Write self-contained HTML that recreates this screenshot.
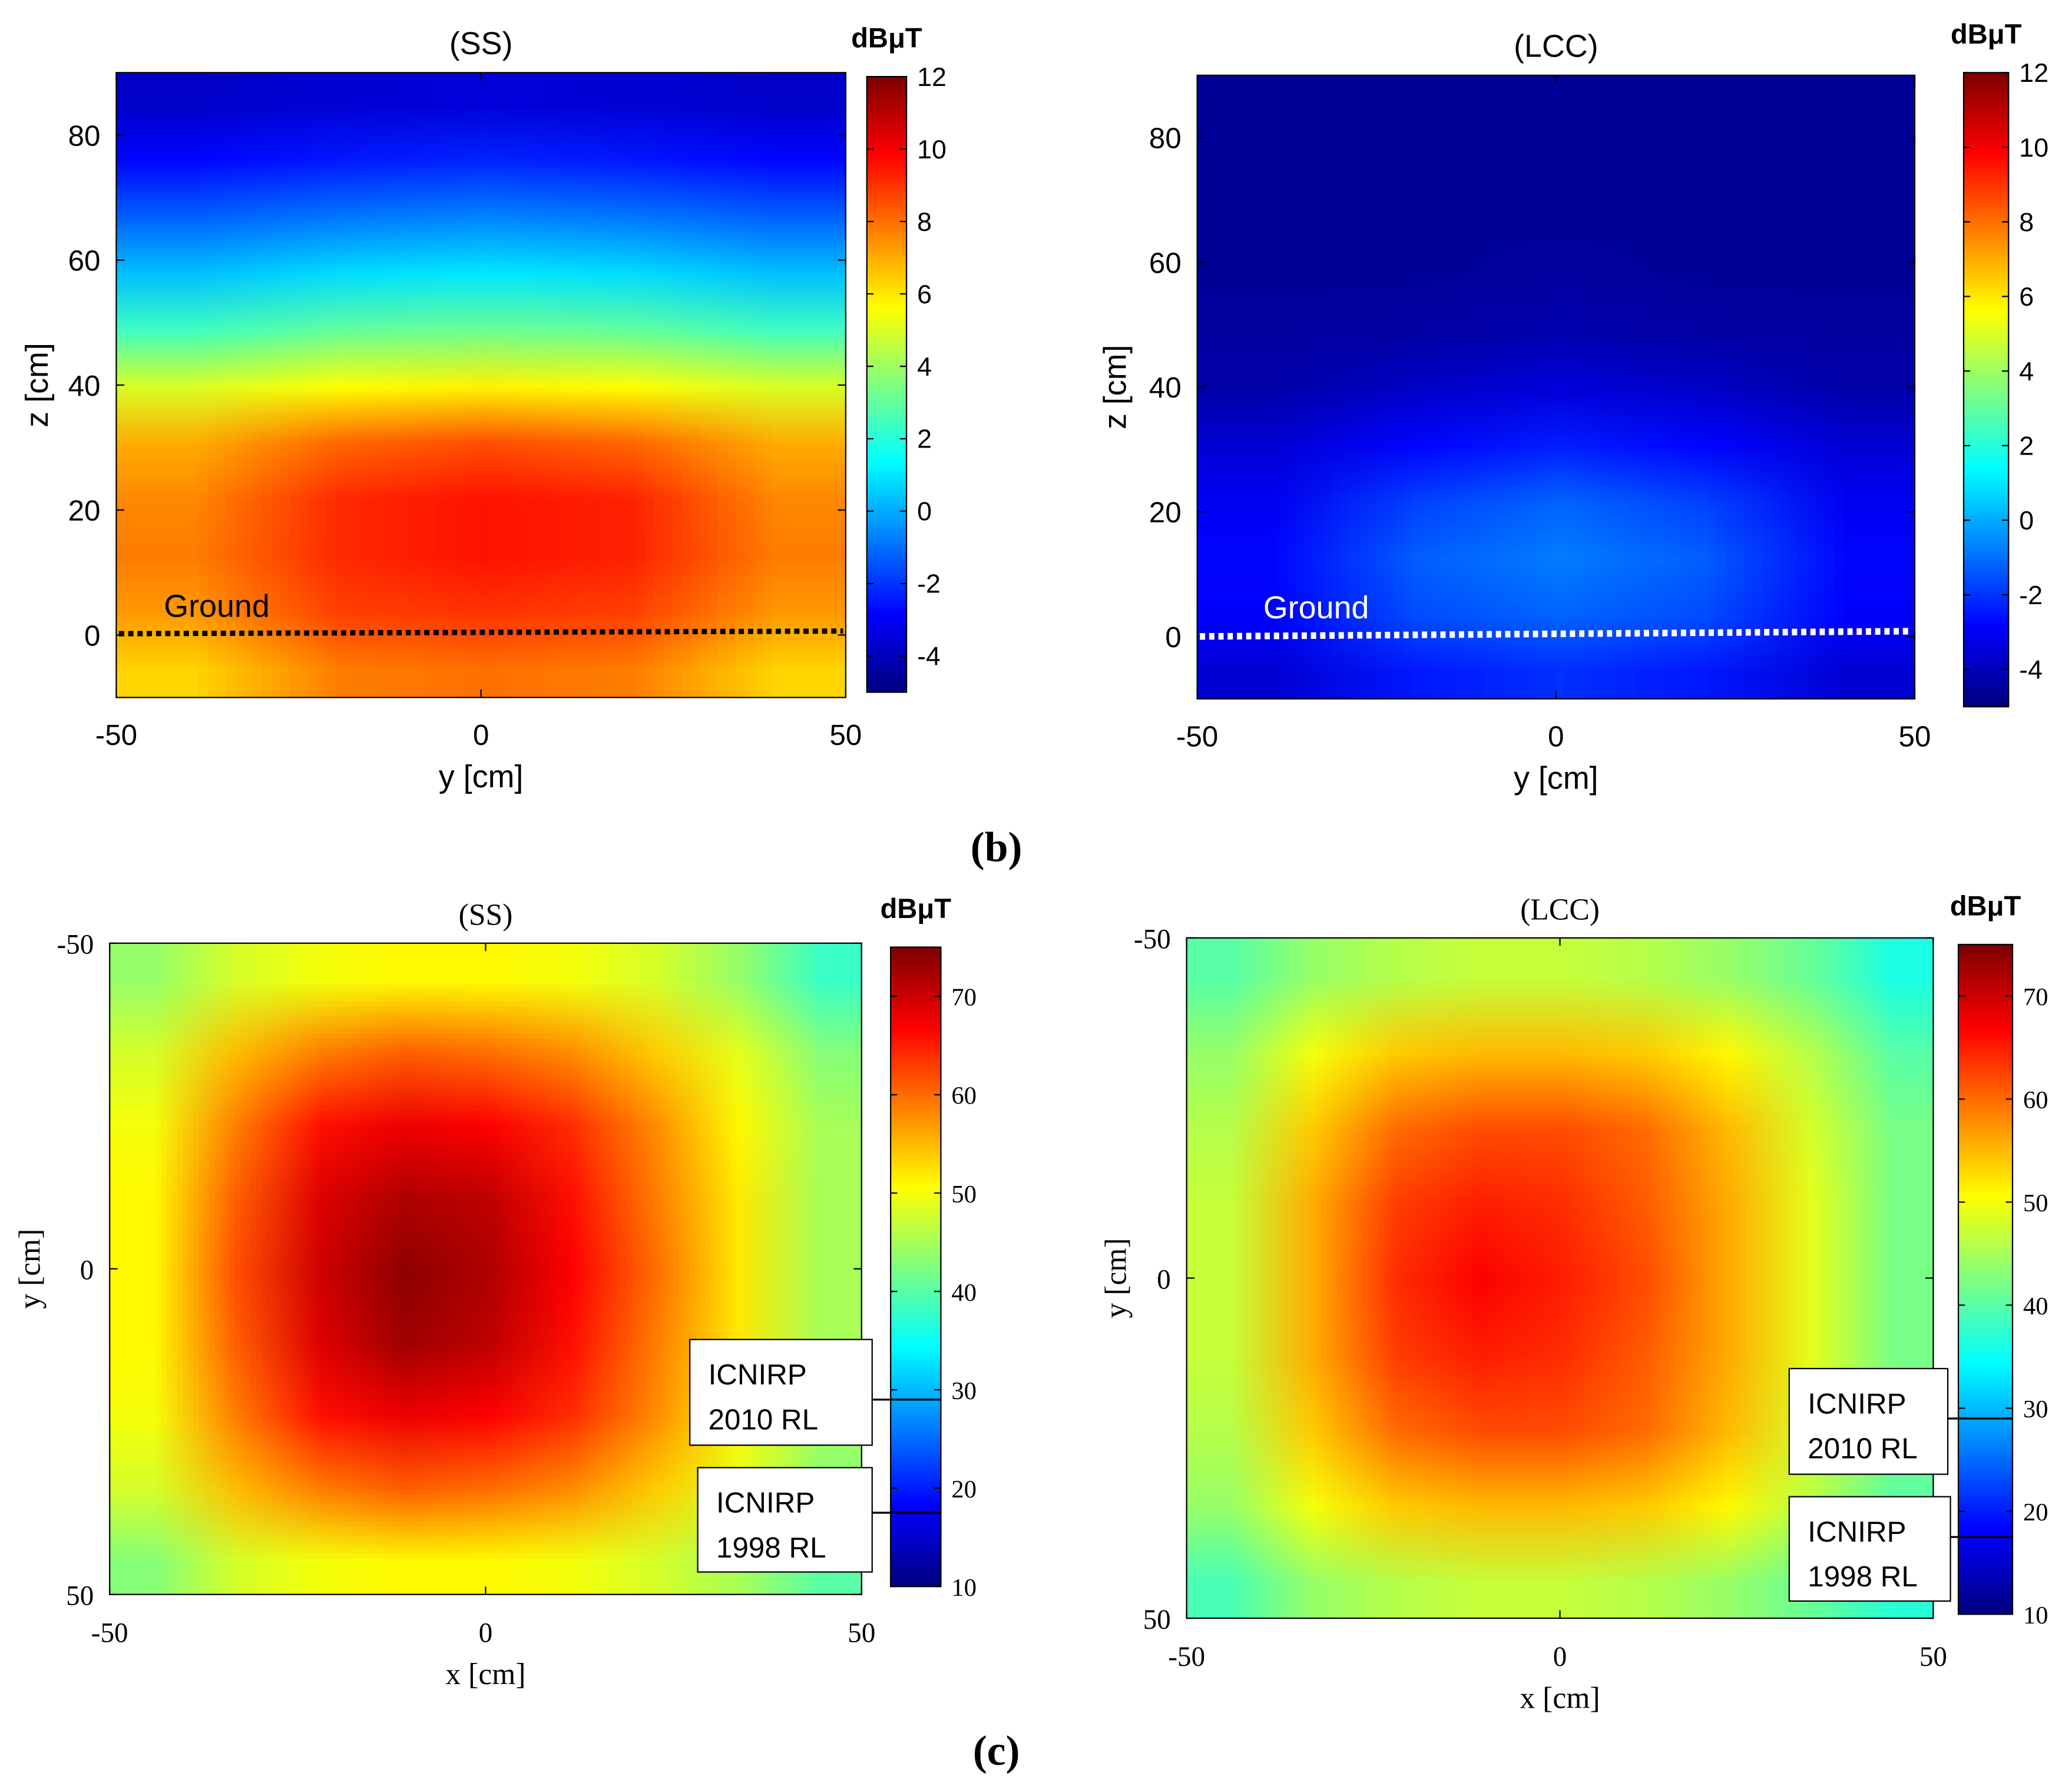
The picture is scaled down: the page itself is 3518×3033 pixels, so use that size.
<!DOCTYPE html>
<html><head><meta charset="utf-8">
<style>
html,body{margin:0;padding:0;background:#fff;}
#root{position:relative;width:1568px;height:1352px;transform-origin:0 0;transform:scale(2.24362,2.24334);background:#fff;}
canvas{position:absolute;}
svg{position:absolute;left:0;top:0;}
.sans{font-family:"Liberation Sans",Arial,sans-serif;}
.serif{font-family:"Liberation Serif","Times New Roman",serif;}
</style></head>
<body>
<div id="root">
<canvas id="h1"></canvas>
<canvas id="h2"></canvas>
<canvas id="h3"></canvas>
<canvas id="h4"></canvas>
<canvas id="c1"></canvas>
<canvas id="c2"></canvas>
<canvas id="c3"></canvas>
<canvas id="c4"></canvas>
<svg id="ov" width="1568" height="1352" viewBox="0 0 1568 1352"></svg>
</div>
<script>
// ---- data ----
const bZ = [90,80,70,60,50,40,30,20,10,0,-10];
const bY = [-50,-25,0,25,50];
const bSS = [
 [-3.8,-3.6,-3.5,-3.6,-3.8],
 [-2.8,-2.5,-2.3,-2.5,-2.8],
 [-1.3,-0.9,-0.7,-0.9,-1.3],
 [0.3,0.8,1.0,0.8,0.3],
 [2.4,3.0,3.2,3.0,2.4],
 [5.0,5.6,5.8,5.6,5.0],
 [7.0,8.2,8.6,8.2,7.0],
 [7.6,9.2,9.6,9.3,7.6],
 [7.8,9.2,9.6,9.3,7.8],
 [7.3,8.8,9.0,8.8,7.3],
 [6.3,7.8,8.0,7.8,6.3]];
const bLCC = [
 [-4.6,-4.6,-4.6,-4.6,-4.6],
 [-4.6,-4.6,-4.6,-4.6,-4.6],
 [-4.6,-4.6,-4.6,-4.6,-4.6],
 [-4.6,-4.6,-4.5,-4.6,-4.6],
 [-4.5,-4.4,-4.2,-4.4,-4.5],
 [-4.3,-3.8,-3.5,-3.8,-4.3],
 [-3.6,-2.8,-2.4,-2.8,-3.6],
 [-3.1,-1.8,-1.2,-1.8,-3.1],
 [-2.8,-1.3,-0.8,-1.3,-2.8],
 [-2.9,-1.6,-1.2,-1.6,-2.9],
 [-3.6,-2.5,-2.1,-2.5,-3.6]];
const cX = [-50,-37.5,-25,-12.5,0,12.5,25,37.5,50];
const cSS = [
 [44,48,50,51,51,50,48,44,38],
 [48,55,59,61,60,58,54,49,43],
 [50,59,66,68,67,64,58,51,45],
 [51,61,69,72,71,66,59,52,45],
 [51,62,70,74,72,67,60,52,45],
 [51,61,69,73,71,66,59,52,45],
 [50,59,66,68,67,64,58,51,45],
 [48,55,59,61,60,58,54,49,43],
 [43,48,50,51,51,50,48,45,40]];
const cLCC = [
 [40,44,46,47,47,46,44,41,36],
 [44,50,54,55,55,54,51,46,40],
 [46,54,60,62,62,60,55,48,42],
 [47,56,63,65,64,61,56,49,42],
 [47,56,64,67,65,62,56,49,42],
 [47,56,63,65,64,61,56,49,42],
 [46,54,60,62,62,60,55,48,42],
 [44,50,54,55,55,54,51,46,40],
 [39,44,46,47,47,46,44,41,37]];
const bTicksY = [0,20,40,60,80];
const bTicksX = [-50,0,50];
const bCbTicks = [-4,-2,0,2,4,6,8,10,12];
const cTicks = [-50,0,50];
const cCbTicks = [10,20,30,40,50,60,70];
const refLevels = [29,17.5];

function jet(t){t=Math.max(0,Math.min(1,t));const c=v=>Math.round(255*Math.max(0,Math.min(1,v)));
 return [c(1.5-Math.abs(4*t-3)),c(1.5-Math.abs(4*t-2)),c(1.5-Math.abs(4*t-1))];}
function heat(id,grid,x,y,w,h,vmin,vmax){
 const cv=document.getElementById(id);const R=grid.length,C=grid[0].length;
 cv.width=C;cv.height=R;cv.style.left=x+'px';cv.style.top=y+'px';cv.style.width=w+'px';cv.style.height=h+'px';
 const ctx=cv.getContext('2d');const im=ctx.createImageData(C,R);
 for(let r=0;r<R;r++)for(let c=0;c<C;c++){const col=jet((grid[r][c]-vmin)/(vmax-vmin));const i=4*(r*C+c);
  im.data[i]=col[0];im.data[i+1]=col[1];im.data[i+2]=col[2];im.data[i+3]=255;}
 ctx.putImageData(im,0,0);}
function cbar(id,x,y,w,h){const cv=document.getElementById(id);cv.width=1;cv.height=256;
 cv.style.left=x+'px';cv.style.top=y+'px';cv.style.width=w+'px';cv.style.height=h+'px';
 const ctx=cv.getContext('2d');const im=ctx.createImageData(1,256);
 for(let i=0;i<256;i++){const col=jet(1-i/255);im.data[4*i]=col[0];im.data[4*i+1]=col[1];im.data[4*i+2]=col[2];im.data[4*i+3]=255;}
 ctx.putImageData(im,0,0);}
const ov=document.getElementById('ov');const NS='http://www.w3.org/2000/svg';
function el(tag,attrs,name,text){const e=document.createElementNS(NS,tag);for(const k in attrs)e.setAttribute(k,attrs[k]);
 
 
 if(text!==undefined)e.textContent=text;ov.appendChild(e);return e;}
function lin(d0,d1,p0,p1){return v=>p0+(v-d0)*(p1-p0)/(d1-d0);}

function panel(o){
 const xs=lin(o.xd[0],o.xd[1],o.x0,o.x1), ys=lin(o.yd[0],o.yd[1],o.y0,o.y1);
 heat(o.id,o.grid,o.x0,o.y0,o.x1-o.x0,o.y1-o.y0,o.vmin,o.vmax);
 el('rect',{x:o.x0,y:o.y0,width:o.x1-o.x0,height:o.y1-o.y0,fill:'none',stroke:'#000','stroke-width':1},o.p+'-plot-frame');
 const cls=o.serif?'serif':'sans';
 o.yt.forEach(v=>{const y=ys(v);
  el('line',{x1:o.x0,y1:y,x2:o.x0+6,y2:y,stroke:'#000'},o.p+'-ytick');
  el('line',{x1:o.x1,y1:y,x2:o.x1-6,y2:y,stroke:'#000'},o.p+'-ytick');
  el('text',{x:o.x0-12,y:y+8,'text-anchor':'end','font-size':o.fs,class:cls},o.p+'-ytick-label',String(v));});
 o.xt.forEach(v=>{const x=xs(v);
  el('line',{x1:x,y1:o.y1,x2:x,y2:o.y1-6,stroke:'#000'},o.p+'-xtick');
  el('line',{x1:x,y1:o.y0,x2:x,y2:o.y0+6,stroke:'#000'},o.p+'-xtick');
  el('text',{x:x,y:o.y1+36,'text-anchor':'middle','font-size':o.fs,class:cls},o.p+'-xtick-label',String(v));});
 el('text',{x:(o.x0+o.x1)/2,y:o.y1+68,'text-anchor':'middle','font-size':o.fs+2,class:cls},o.p+'-x-axis-title',o.xl);
 el('text',{x:0,y:0,'text-anchor':'middle','font-size':o.fs+2,class:cls,transform:`translate(${o.ylx},${(o.y0+o.y1)/2}) rotate(-90)`},o.p+'-y-axis-title',o.yl);
 el('text',{x:(o.x0+o.x1)/2,y:o.y0-14,'text-anchor':'middle','font-size':o.fs+2,class:cls},o.p+'-title',o.title);
 const c=o.cb;cbar(c.id,c.x,c.y0,c.w,c.y1-c.y0);
 const cs=lin(o.vmin,o.vmax,c.y1,c.y0);
 el('rect',{x:c.x,y:c.y0,width:c.w,height:c.y1-c.y0,fill:'none',stroke:'#000'},o.p+'-colorbar-frame');
 c.ticks.forEach(v=>{const y=cs(v);
  el('line',{x1:c.x,y1:y,x2:c.x+5,y2:y,stroke:'#000'},o.p+'-cb-tick');
  el('line',{x1:c.x+c.w,y1:y,x2:c.x+c.w-5,y2:y,stroke:'#000'},o.p+'-cb-tick');
  el('text',{x:c.x+c.w+8,y:y+7,'font-size':o.fs-2,class:cls},o.p+'-cb-tick-label',String(v));});
 el('text',{x:c.x+c.w/2,y:c.y0-22,'text-anchor':'middle','font-size':21,'font-weight':'bold',class:'sans'},o.p+'-colorbar-unit','dBμT');
 return {xs,ys,cs};
}
const A=panel({p:'b-ss',id:'h1',grid:bSS,x0:88,x1:640,y0:55,y1:528,xd:[-50,50],yd:[90,-10],vmin:-5,vmax:12,
 yt:bTicksY,xt:bTicksX,fs:22,xl:'y [cm]',yl:'z [cm]',ylx:36,title:'(SS)',
 cb:{id:'c1',x:656,w:30,y0:58,y1:524,ticks:bCbTicks}});
el('line',{x1:90,y1:A.ys(0)-1,x2:638,y2:A.ys(0)-3,stroke:'#000','stroke-width':4,'stroke-dasharray':'4 3'},'ground-line-ss');
el('text',{x:124,y:467,'font-size':24,class:'sans'},'ground-label-ss','Ground');
const B=panel({p:'b-lcc',id:'h2',grid:bLCC,x0:906,x1:1449,y0:57,y1:529,xd:[-50,50],yd:[90,-10],vmin:-5,vmax:12,
 yt:bTicksY,xt:bTicksX,fs:22,xl:'y [cm]',yl:'z [cm]',ylx:852,title:'(LCC)',
 cb:{id:'c2',x:1486,w:34,y0:55,y1:535,ticks:bCbTicks}});
el('line',{x1:908,y1:B.ys(0),x2:1447,y2:B.ys(0)-4,stroke:'#fff','stroke-width':5,'stroke-dasharray':'4 3'},'ground-line-lcc');
el('text',{x:956,y:468,'font-size':24,fill:'#fff',class:'sans'},'ground-label-lcc','Ground');
el('text',{x:754,y:652,'text-anchor':'middle','font-size':32,'font-weight':'bold',class:'serif'},'label-b','(b)');

const C=panel({p:'c-ss',id:'h3',grid:cSS,x0:83,x1:652,y0:714,y1:1207,xd:[-50,50],yd:[-50,50],vmin:10,vmax:75,
 yt:cTicks,xt:cTicks,fs:21,serif:true,xl:'x [cm]',yl:'y [cm]',ylx:30,title:'(SS)',
 cb:{id:'c3',x:674,w:38,y0:717,y1:1201,ticks:cCbTicks}});
const D=panel({p:'c-lcc',id:'h4',grid:cLCC,x0:898,x1:1463,y0:710,y1:1225,xd:[-50,50],yd:[-50,50],vmin:10,vmax:75,
 yt:cTicks,xt:cTicks,fs:21,serif:true,xl:'x [cm]',yl:'y [cm]',ylx:852,title:'(LCC)',
 cb:{id:'c4',x:1482,w:41,y0:715,y1:1222,ticks:cCbTicks}});
el('text',{x:754,y:1336,'text-anchor':'middle','font-size':32,'font-weight':'bold',class:'serif'},'label-c','(c)');

function box(x,y,w,h,l1,l2,lineY,x2,name){
 el('line',{x1:x+w,y1:lineY,x2:x2,y2:lineY,stroke:'#000','stroke-width':1.5},name+'-leader');
 el('rect',{x:x,y:y,width:w,height:h,fill:'#fff',stroke:'#000','stroke-width':1},name+'-box');
 el('text',{x:x+14,y:y+34,'font-size':22,class:'sans'},name+'-line1',l1);
 el('text',{x:x+14,y:y+68,'font-size':22,class:'sans'},name+'-line2',l2);}
box(522,1014,138,80,'ICNIRP','2010 RL',C.cs(refLevels[0]),712,'c-ss-icnirp-2010');
box(528,1111,132,79,'ICNIRP','1998 RL',C.cs(refLevels[1]),712,'c-ss-icnirp-1998');
box(1354,1036,120,80,'ICNIRP','2010 RL',D.cs(refLevels[0]),1523,'c-lcc-icnirp-2010');
box(1354,1133,122,79,'ICNIRP','1998 RL',D.cs(refLevels[1]),1523,'c-lcc-icnirp-1998');
</script>
</body></html>
